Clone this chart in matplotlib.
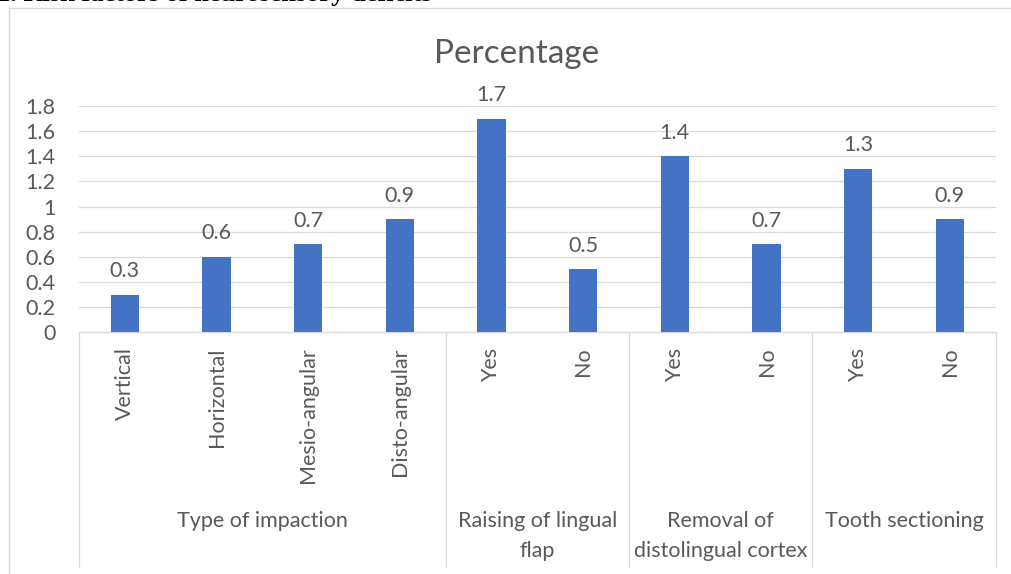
import numpy as np
import matplotlib.pyplot as plt
from matplotlib.transforms import blended_transform_factory

# data
categories = ["Vertical", "Horizontal", "Mesio-angular", "Disto-angular",
              "Yes", "No", "Yes", "No", "Yes", "No"]
percentages = [0.3, 0.6, 0.7, 0.9, 1.7, 0.5, 1.4, 0.7, 1.3, 0.9]
groups = ["Type of impaction", "Raising of lingual\nflap",
          "Removal of\ndistolingual cortex", "Tooth sectioning"]
group_sizes = [4, 2, 2, 2]
yticks = [0, 0.2, 0.4, 0.6, 0.8, 1, 1.2, 1.4, 1.6, 1.8]
ytick_labels = ["0", "0.2", "0.4", "0.6", "0.8", "1", "1.2", "1.4", "1.6", "1.8"]

W, H = 1011, 574
TXT = "#595959"
GRID = "#D9D9D9"
BLUE = "#4472C4"
FS = 15.5

plt.rcParams['font.family'] = ['Lato', 'DejaVu Sans']

fig = plt.figure(figsize=(W / 100, H / 100), dpi=100)

# plot area in pixels: x 79..995.7, y 106..332.3
left, right, top, bottom = 79, 995.7, 106, 332.3
ax = fig.add_axes([left / W, 1 - bottom / H, (right - left) / W, (bottom - top) / H])

x = np.arange(len(categories))
ax.bar(x, percentages, width=0.31, color=BLUE, zorder=3)
for xi, v in zip(x, percentages):
    ax.annotate(f"{v:g}", (xi, v), xytext=(0, 12.6), textcoords="offset points",
                ha="center", va="baseline", fontsize=FS, color=TXT)

ax.set_xlim(-0.5, len(categories) - 0.5)
ax.set_ylim(0, 1.8)
ax.set_yticks(yticks, ytick_labels)
ax.set_xticks(x, categories, rotation=90)
ax.tick_params(axis="y", length=0, pad=17, labelsize=FS, labelcolor=TXT)
ax.tick_params(axis="x", length=0, pad=11, labelsize=FS, labelcolor=TXT)
ax.grid(axis="y", color=GRID, lw=0.9, zorder=0)
for s in ["top", "right", "left"]:
    ax.spines[s].set_visible(False)
ax.spines["bottom"].set_color(GRID)
ax.spines["bottom"].set_linewidth(0.9)

# group separators and group labels under the tick labels
trans = blended_transform_factory(ax.transData, ax.transAxes)
ph = bottom - top
line_low = -(566.7 - bottom) / ph
edges = np.concatenate([[0], np.cumsum(group_sizes)]) - 0.5
ax.vlines(edges, line_low, 0, transform=trans, color=GRID, lw=0.9, clip_on=False)
for g, a, b in zip(groups, edges[:-1], edges[1:]):
    for i, line in enumerate(g.split("\n")):
        ax.text((a + b) / 2, -(521 + 30 * i - bottom) / ph, line, transform=trans,
                ha="center", va="center", fontsize=FS, color=TXT)

fig.text(517 / W, 1 - 63 / H, "Percentage", fontsize=24, color=TXT,
         ha="center", va="baseline")

# chart border (left and top) and cut-off caption above
fig.add_artist(plt.Line2D([9 / W, 9 / W], [0, 1 - 8 / H], color=GRID, lw=1))
fig.add_artist(plt.Line2D([9 / W, 1], [1 - 8 / H, 1 - 8 / H], color=GRID, lw=1))
fig.text(-3 / W, 1 - 1.5 / H, "1. Risk factors of neurosensory deficits",
         family="Liberation Serif", weight="bold", fontsize=19, va="baseline")

fig.savefig("out.png", dpi=100)
